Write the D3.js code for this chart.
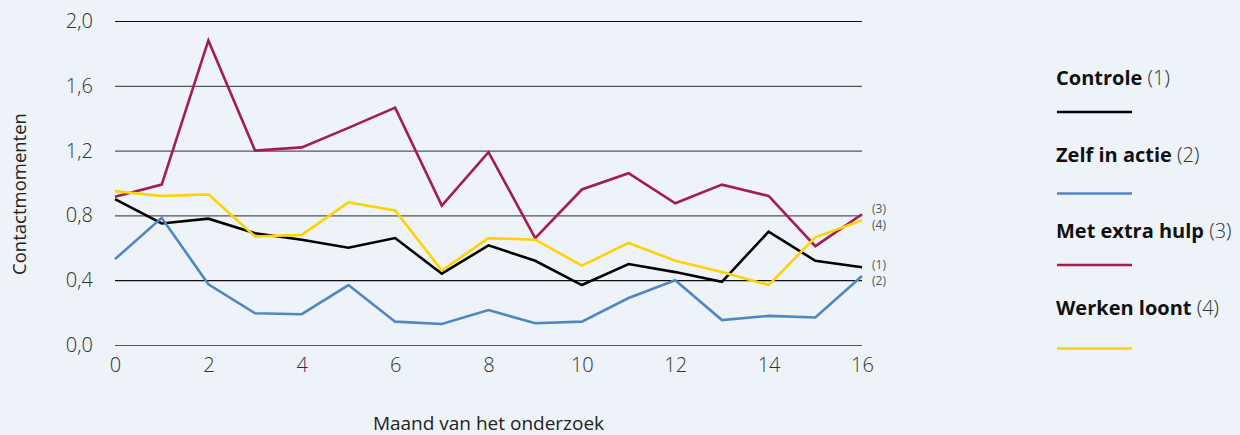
<!DOCTYPE html>
<html>
<head>
<meta charset="utf-8">
<script src="https://cdn.jsdelivr.net/npm/d3@7"></script>
<style>
  body { margin: 0; background-color: #eef3fa; font-family: "Open Sans", sans-serif; }
  #container svg { display: block; }
  .light { font-family: "Open Sans Light", "Open Sans", sans-serif; font-weight: 300; }
</style>
</head>
<body>
<div id="container"></div>
<script>
"use strict";

const months = [0, 1, 2, 3, 4, 5, 6, 7, 8, 9, 10, 11, 12, 13, 14, 15, 16];
const controle = [0.9, 0.75, 0.78, 0.69, 0.65, 0.6, 0.66, 0.44, 0.615, 0.52, 0.37, 0.5, 0.45, 0.39, 0.7, 0.52, 0.48];
const zelfInActie = [0.53, 0.785, 0.375, 0.196, 0.19, 0.37, 0.144, 0.13, 0.216, 0.134, 0.144, 0.29, 0.4, 0.154, 0.18, 0.17, 0.426];
const metExtraHulp = [0.915, 0.99, 1.88, 1.2, 1.22, 1.34, 1.465, 0.86, 1.19, 0.66, 0.96, 1.06, 0.875, 0.99, 0.92, 0.61, 0.807];
const werkenLoont = [0.95, 0.92, 0.93, 0.67, 0.68, 0.88, 0.83, 0.46, 0.66, 0.65, 0.49, 0.63, 0.52, 0.45, 0.37, 0.665, 0.77];
const yTicks = [0, 0.4, 0.8, 1.2, 1.6, 2.0];
const xTicks = [0, 2, 4, 6, 8, 10, 12, 14, 16];

const series = [
  { name: "Controle", num: "(1)", values: controle, color: "#000000" },
  { name: "Zelf in actie", num: "(2)", values: zelfInActie, color: "#4f86c6" },
  { name: "Met extra hulp", num: "(3)", values: metExtraHulp, color: "#a51c51" },
  { name: "Werken loont", num: "(4)", values: werkenLoont, color: "#ffd200" },
];

const width = 1240;
const height = 435;
const margin = { top: 21, right: 378, bottom: 90, left: 115 };

const x = d3.scaleLinear().domain([0, 16]).range([margin.left, width - margin.right]);
const y = d3.scaleLinear().domain([0, 2]).range([height - margin.bottom, margin.top]);

const svg = d3.create("svg").attr("width", width).attr("height", height);

// Gridlines with the y tick labels.
const yAxis = svg
  .append("g")
  .attr("transform", `translate(${margin.left}, 0)`)
  .call(
    d3.axisLeft(y)
      .tickValues(yTicks)
      .tickSize(-(width - margin.left - margin.right))
      .tickPadding(22)
      .tickFormat((d) => d3.format(".1f")(d).replace(".", ","))
  );
yAxis.select(".domain").remove();
yAxis
  .selectAll("line")
  .attr("stroke", (d) => (d === 2 || d === 0.4 ? "#111" : "#555"))
  .attr("stroke-width", 1.2);
yAxis
  .selectAll("text")
  .attr("class", "light")
  .style("font-size", "20px")
  .attr("fill", "#333");

// X tick labels only.
const xAxis = svg
  .append("g")
  .attr("transform", `translate(0, ${height - margin.bottom})`)
  .call(d3.axisBottom(x).tickValues(xTicks).tickSize(0).tickPadding(13));
xAxis.select(".domain").remove();
xAxis
  .selectAll("text")
  .attr("class", "light")
  .style("font-size", "20px")
  .attr("fill", "#333");

// Axis titles.
svg
  .append("text")
  .attr("transform", "translate(26, 194) rotate(-90)")
  .attr("text-anchor", "middle")
  .style("font-size", "18.5px")
  .attr("fill", "#222")
  .text("Contactmomenten");

svg
  .append("text")
  .attr("x", (margin.left + width - margin.right) / 2)
  .attr("y", 430)
  .attr("text-anchor", "middle")
  .style("font-size", "19px")
  .attr("fill", "#222")
  .text("Maand van het onderzoek");

// Lines.
const line = d3
  .line()
  .x((d, i) => x(months[i]))
  .y((d) => y(d));

svg
  .selectAll(".series")
  .data(series)
  .enter()
  .append("path")
  .attr("fill", "none")
  .attr("stroke", (d) => d.color)
  .attr("stroke-width", 2.6)
  .attr("stroke-linejoin", "miter")
  .attr("d", (d) => line(d.values));

// End labels, nudged apart where lines finish close together.
const endOffsets = [-2, 5, -5, 5];
svg
  .selectAll(".end-label")
  .data(series)
  .enter()
  .append("text")
  .attr("x", x(16) + 10)
  .attr("y", (d, i) => y(d.values[d.values.length - 1]) + endOffsets[i])
  .attr("dy", "0.35em")
  .style("font-size", "12px")
  .attr("fill", "#555")
  .text((d) => d.num);

// Legend.
const legendLineOffsets = [34, 39, 34, 41];
const legend = svg
  .selectAll(".legend")
  .data(series)
  .enter()
  .append("g")
  .attr("transform", (d, i) => `translate(1056, ${78 + i * 76.5})`);

const label = legend
  .append("text")
  .attr("dy", "0.35em")
  .style("font-size", "20px")
  .attr("fill", "#111");
label.append("tspan").style("font-weight", 700).text((d) => d.name + " ");
label
  .append("tspan")
  .attr("class", "light")
  .attr("fill", "#333")
  .text((d) => d.num);

legend
  .append("line")
  .attr("x1", 1)
  .attr("x2", 76)
  .attr("y1", (d, i) => legendLineOffsets[i])
  .attr("y2", (d, i) => legendLineOffsets[i])
  .attr("stroke", (d) => d.color)
  .attr("stroke-width", 2.5);

d3.select("#container").append(() => svg.node());
</script>
</body>
</html>
